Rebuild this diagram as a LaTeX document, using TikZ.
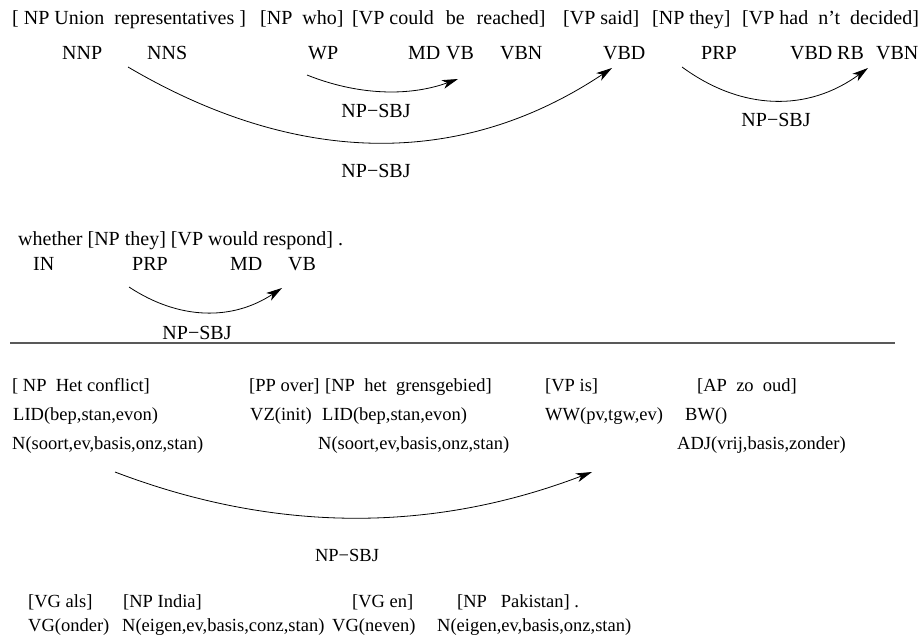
\documentclass[tikz,border=0pt]{standalone}
\usepackage{fontspec}
\setmainfont{Liberation Serif}
\usetikzlibrary{arrows.meta}
\begin{document}
\begin{tikzpicture}[x=1pt,y=-1pt,
  word/.style={anchor=base west,inner sep=0pt,font=\fontsize{20}{24}\selectfont},
  dword/.style={anchor=base west,inner sep=0pt,font=\fontsize{18.5}{22}\selectfont},
  rel/.style={inner sep=0pt,font=\fontsize{20}{24}\selectfont},
  drel/.style={inner sep=0pt,font=\fontsize{18.5}{22}\selectfont},
  dep/.style={line width=0.8pt,-{Stealth[length=16pt,width=9pt,inset=4.5pt]}}]
\useasboundingbox (0,0) rectangle (923,643);

\node[word] (np1) at (12,24) {[ NP Union\ \ representatives ]};
\node[word] (np2) at (260,24) {[NP\ \ who]};
\node[word] (vp1) at (352,24) {[VP could\hspace{12pt}be\hspace{12pt}reached]};
\node[word] (vp2) at (563,24) {[VP said]};
\node[word] (np3) at (652,24) {[NP they]};
\node[word] (vp3) at (742,24) {[VP had\ \ n't\ \ decided]};

\node[word] (nnp) at (62,59) {NNP};
\node[word] (nns) at (147,59) {NNS};
\node[word] (wp) at (308,59) {WP};
\node[word] (md1) at (408,59) {MD};
\node[word] (vb1) at (446,59) {VB};
\node[word] (vbn1) at (500,59) {VBN};
\node[word] (vbd1) at (603,59) {VBD};
\node[word] (prp1) at (701,59) {PRP};
\node[word] (vbd2) at (790,59) {VBD};
\node[word] (rb) at (837,59) {RB};
\node[word] (vbn2) at (876,59) {VBN};

\coordinate (s1) at (307,75);
\coordinate (e1) at (458,79);
\coordinate (s2) at (128,67);
\coordinate (e2) at (612,68);
\coordinate (s3) at (682,67);
\coordinate (e3) at (868,68);
\draw[dep] (s1) .. controls +(50,20) and +(-50,18) .. (e1);
\draw[dep] (s2) .. controls +(170,100) and +(-150,100) .. (e2);
\draw[dep] (s3) .. controls +(60,44) and +(-60,44) .. (e3);
\node[rel] (l1) at (376,111) {NP−SBJ};
\node[rel] (l2) at (376,171) {NP−SBJ};
\node[rel] (l3) at (776,120) {NP−SBJ};

\node[word] (s2w) at (18,245) {whether [NP they] [VP would respond] .};
\node[word] (in) at (33,270) {IN};
\node[word] (prp2) at (132,270) {PRP};
\node[word] (md2) at (230,270) {MD};
\node[word] (vb2) at (288,270) {VB};
\coordinate (s4) at (129,287);
\coordinate (e4) at (282,288);
\draw[dep] (s4) .. controls +(50,33) and +(-50,33) .. (e4);
\node[rel] (l4) at (197,333) {NP−SBJ};

\draw[line width=1.2pt,black!65] (10,343) -- (895,343);

\node[dword] (dnp1) at (12,391) {[ NP\ \ Het conflict]};
\node[dword] (dpp) at (249,391) {[PP over]};
\node[dword] (dnp2) at (325,391) {[NP\ \ het\ \ grensgebied]};
\node[dword] (dvp) at (545,391) {[VP is]};
\node[dword] (dap) at (697,391) {[AP\ \ zo\ \ oud]};

\node[dword] (lid1) at (13,420) {LID(bep,stan,evon)};
\node[dword] (vz) at (250,420) {VZ(init)};
\node[dword] (lid2) at (322,420) {LID(bep,stan,evon)};
\node[dword] (ww) at (545,420) {WW(pv,tgw,ev)};
\node[dword] (bw) at (685,420) {BW()};

\node[dword] (n1) at (12,449) {N(soort,ev,basis,onz,stan)};
\node[dword] (n2) at (318,449) {N(soort,ev,basis,onz,stan)};
\node[dword] (adj) at (677,449) {ADJ(vrij,basis,zonder)};

\coordinate (s5) at (115,472);
\coordinate (e5) at (592,472);
\draw[dep] (s5) .. controls +(160,61) and +(-160,61) .. (e5);
\node[drel] (l5) at (347,555) {NP−SBJ};

\node[dword] (vg1) at (28,607) {[VG als]};
\node[dword] (dnp3) at (123,607) {[NP India]};
\node[dword] (vg2) at (352,607) {[VG en]};
\node[dword] (dnp4) at (457,607) {[NP\ \ \ Pakistan] .};

\node[dword] (vgo) at (28,631) {VG(onder)};
\node[dword] (n3) at (122,631) {N(eigen,ev,basis,conz,stan)};
\node[dword] (vgn) at (332,631) {VG(neven)};
\node[dword] (n4) at (437,631) {N(eigen,ev,basis,onz,stan)};
\end{tikzpicture}
\end{document}
